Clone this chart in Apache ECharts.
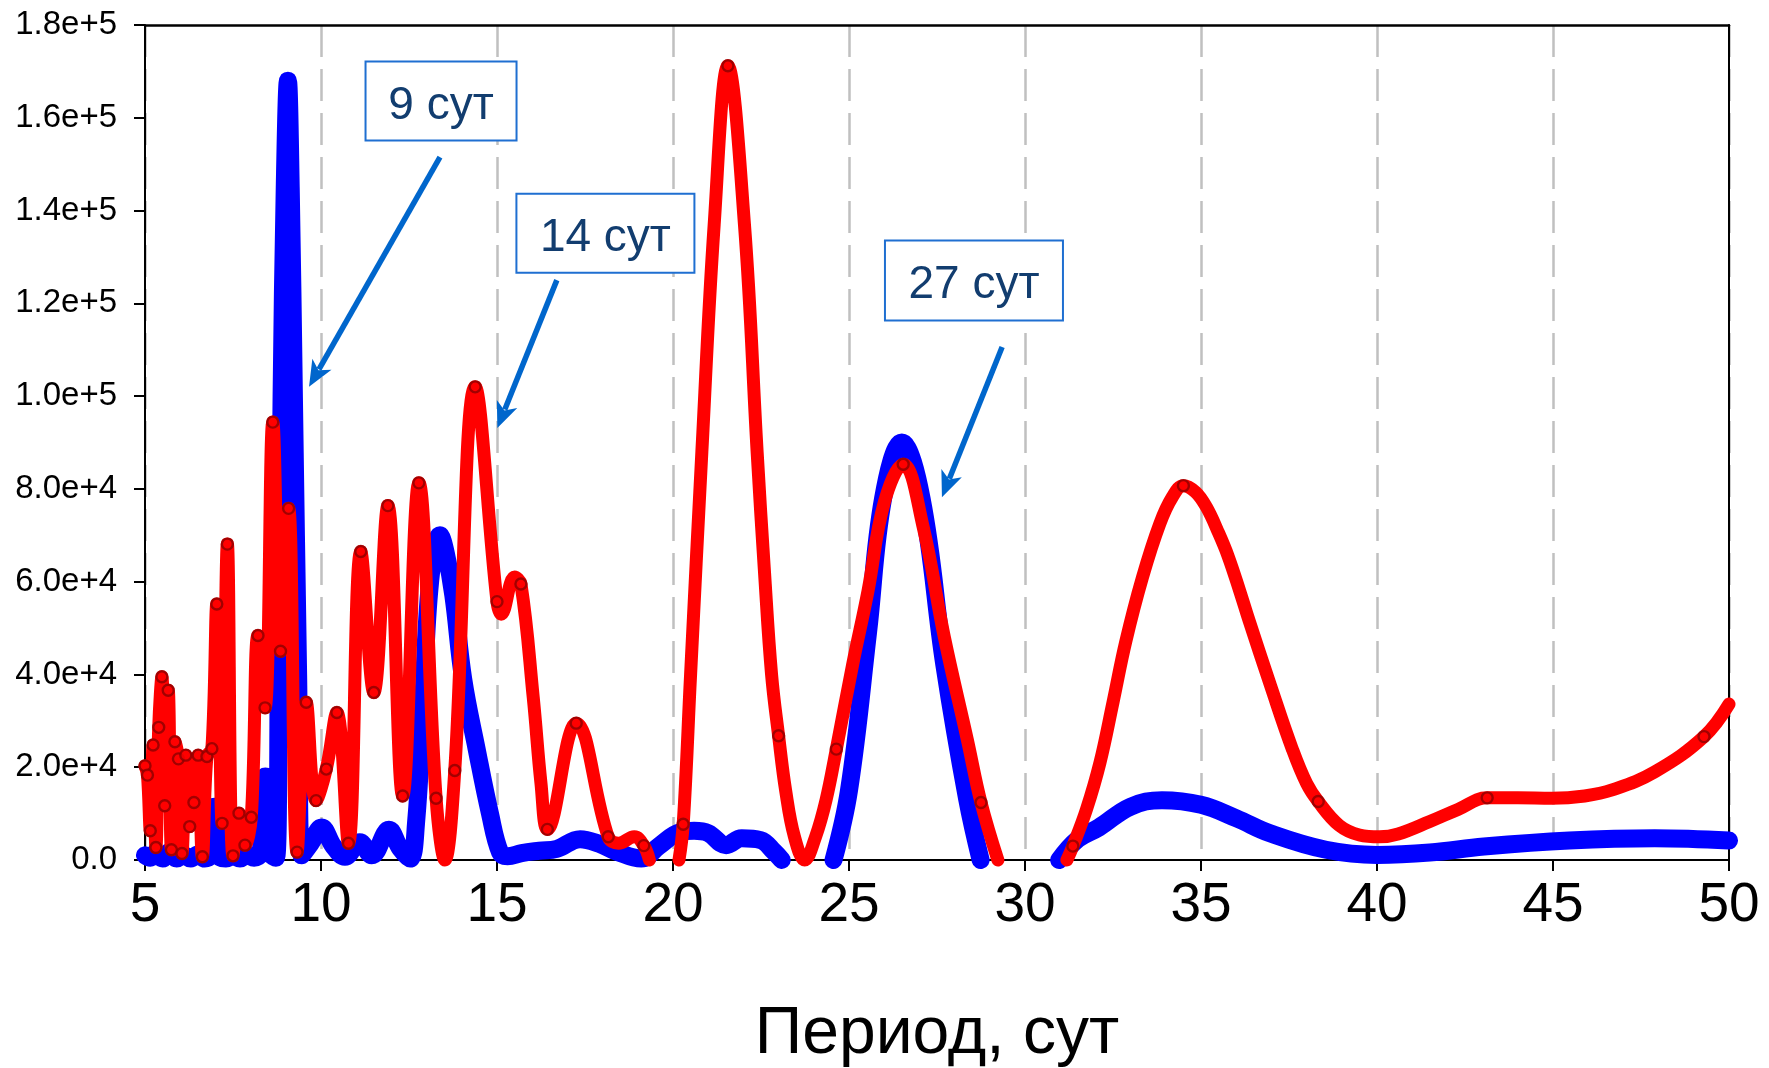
<!DOCTYPE html>
<html><head><meta charset="utf-8">
<script src="https://cdn.jsdelivr.net/npm/echarts@6/dist/echarts.min.js"></script>
<style>html,body{margin:0;padding:0;background:#fff}#c{width:1769px;height:1068px}</style>
</head><body><div id="c"></div>
<script>
// ---------- data ----------
const xTickLabels = ['5','10','15','20','25','30','35','40','45','50'];
const yTickLabels = ['0.0','2.0e+4','4.0e+4','6.0e+4','8.0e+4','1.0e+5','1.2e+5','1.4e+5','1.6e+5','1.8e+5'];
const xAxisTitle = 'Период, сут';

// blue spectrum (null = gap)
const bluePoints = [
 [5.00,1000],[5.15,500],[5.30,1500],[5.50,300],[5.70,1800],[5.90,300],[6.10,1000],[6.30,300],[6.50,1200],[6.70,300],
 [6.85,1000],[6.97,11500],[7.10,1000],[7.30,300],[7.50,800],[7.70,300],[7.90,1000],[8.10,500],[8.28,1500],[8.42,18000],
 [8.56,1500],[8.72,500],[8.80,40000],[8.88,100000],[8.97,145000],[9.06,168000],[9.14,145000],[9.23,100000],[9.35,40000],[9.45,1000],
 [9.70,3500],[10.02,7000],[10.35,3000],[10.68,700],[11.10,3800],[11.44,1000],[11.93,6500],[12.25,2500],[12.53,300],[12.70,8000],
 [12.89,32000],[13.10,60000],[13.38,70000],[13.55,66000],[13.76,57000],[14.04,39000],[14.42,24000],[14.80,10000],[15.09,1600],[15.30,800],
 [15.70,1500],[16.20,2000],[16.70,2400],[17.36,4500],[17.90,3500],[18.40,1800],[19.10,300],[19.60,3000],[20.20,6000],[20.60,6300],
 [21.00,5800],[21.51,3200],[21.95,4700],[22.49,4300],[22.87,1800],[23.09,0],[23.80,null],
 [24.56,0],[25.00,15000],[25.54,49000],[25.97,78000],[26.50,90000],[27.06,78000],[27.71,42000],[28.36,13000],[28.74,0],[29.80,null],
 [30.97,0],[31.50,4500],[32.10,7000],[33.00,11500],[33.89,12900],[35.00,11900],[36.00,9000],[36.98,5700],[38.55,2200],[40.00,1100],
 [41.50,1600],[43.04,2900],[45.46,4200],[47.89,4700],[50.00,4200]
];

// red spectrum curve (null = gap)
const redPoints = [
 [5.00,20300],[5.07,18300],[5.15,6300],[5.23,24800],[5.31,2700],[5.39,28600],[5.48,39500],[5.56,11700],[5.66,36600],[5.75,2200],
 [5.85,25500],[5.95,21800],[6.05,1400],[6.16,22600],[6.27,7200],[6.39,12400],[6.51,22600],[6.63,700],[6.76,22300],[6.90,24000],
 [7.04,55200],[7.19,7900],[7.34,68100],[7.50,900],[7.67,10100],[7.84,3200],[8.02,9200],[8.21,48400],[8.41,32800],[8.63,94400],
 [8.85,45000],[9.08,75800],[9.32,1700],[9.58,34000],[9.86,12800],[10.15,19600],[10.45,31800],[10.78,3600],[11.13,66500],[11.50,36100],
 [11.90,76400],[12.32,13800],[12.78,81300],[13.27,13300],[13.52,0],[13.80,19300],[14.38,102000],[15.00,55700],[15.12,53000],[15.50,61000],
 [15.68,59500],[16.03,35000],[16.25,16500],[16.43,6600],[17.25,29500],[18.16,5000],[18.45,3600],[18.90,5000],[19.17,3100],[19.33,0],
 [19.75,null],
 [20.17,0],[20.29,7700],[20.50,40000],[20.82,88000],[21.17,137000],[21.56,171200],[22.03,137000],[22.39,88000],[22.60,62000],[22.80,40000],
 [23.00,26800],[23.20,15000],[23.45,5000],[23.74,0],[24.05,5000],[24.35,13000],[24.64,23900],[25.10,42000],[25.54,58000],[26.00,77000],
 [26.54,85300],[27.10,72000],[27.71,48000],[28.36,26000],[28.75,12400],[29.23,0],[30.20,null],
 [31.19,0],[31.36,3000],[31.75,11000],[32.13,21000],[32.50,34000],[32.86,47000],[33.34,61000],[33.83,72500],[34.19,78300],[34.50,80700],
 [34.85,79300],[35.16,76000],[35.50,70500],[35.77,65500],[36.10,58000],[36.37,51500],[36.98,37500],[37.59,24000],[38.00,16500],[38.33,12600],
 [38.92,7500],[39.50,5400],[40.07,5000],[40.60,5600],[41.50,8300],[42.30,10900],[43.13,13400],[44.00,13400],[44.97,13300],[45.90,13800],
 [46.68,15100],[47.89,19000],[49.29,26600],[50.00,33600]
];

// red sampled points (markers)
const redMarkers = [
 [5.00,20300],[5.07,18300],[5.15,6300],[5.23,24800],[5.31,2700],[5.39,28600],[5.48,39500],[5.56,11700],[5.66,36600],[5.75,2200],
 [5.85,25500],[5.95,21800],[6.05,1400],[6.16,22600],[6.27,7200],[6.39,12400],[6.51,22600],[6.63,700],[6.76,22300],[6.90,24000],
 [7.04,55200],[7.19,7900],[7.34,68100],[7.50,900],[7.67,10100],[7.84,3200],[8.02,9200],[8.21,48400],[8.41,32800],[8.63,94400],
 [8.85,45000],[9.08,75800],[9.32,1700],[9.58,34000],[9.86,12800],[10.15,19600],[10.45,31800],[10.78,3600],[11.13,66500],[11.50,36100],
 [11.90,76400],[12.32,13800],[12.78,81300],[13.27,13300],[13.80,19300],[14.38,102000],[15.00,55700],[15.68,59500],[16.43,6600],[17.25,29500],
 [18.16,5000],[19.17,3100],[20.29,7700],[21.56,171200],[23.00,26800],[24.64,23900],[26.54,85300],[28.75,12400],[31.36,3000],[34.50,80700],
 [38.33,12600],[43.13,13400],[49.29,26600]
];

// annotations (data coordinates)
const annoText  = ['9 сут','14 сут','27 сут'];
const annoBox   = [[13.41,163600],[18.08,135100],[28.55,124900]];
const arrowFrom = [[13.38,151500],[16.70,125000],[29.35,110600]];
const arrowTo   = [[9.66,102000],[15.01,93100],[27.64,78200]];

// ---------- chart ----------
const FONT = '"Liberation Sans", Arial, sans-serif';
const toData = a => a.map(p => [p[0], p[1] === null ? '-' : p[1]]);
const chart = echarts.init(document.getElementById('c'), null, {renderer:'canvas'});
chart.setOption({
  animation:false,
  backgroundColor:'#fff',
  grid:{left:145, right:40, top:25, bottom:208, show:false, containLabel:false, outerBoundsMode:'none'},
  xAxis:[{
    type:'value', min:5, max:50, interval:5,
    name:xAxisTitle, nameLocation:'middle', nameGap:142,
    nameTextStyle:{fontFamily:FONT, fontSize:66, color:'#000'},
    axisLine:{show:true, onZero:false, lineStyle:{color:'#000', width:2}},
    axisTick:{show:true, inside:false, length:11, lineStyle:{color:'#000', width:2}},
    axisLabel:{margin:18, fontFamily:FONT, fontSize:55, color:'#000',
      formatter:(v)=>{const i=Math.round((v-5)/5); return xTickLabels[i]!==undefined?xTickLabels[i]:'';}},
    splitLine:{show:true, lineStyle:{color:'#c0c0c0', width:2.5, type:[32,12]}}
  },{
    type:'value', min:5, max:50, interval:5, position:'top',
    axisLine:{show:true, onZero:false, lineStyle:{color:'#000', width:2.5}},
    axisTick:{show:false}, axisLabel:{show:false}, splitLine:{show:false}
  }],
  yAxis:[{
    type:'value', min:0, max:180000, interval:20000,
    axisLine:{show:true, onZero:false, lineStyle:{color:'#000', width:2}},
    axisTick:{show:true, inside:false, length:11, lineStyle:{color:'#000', width:2}},
    axisLabel:{margin:28, fontFamily:FONT, fontSize:33, color:'#000',
      formatter:(v)=>{const i=Math.round(v/20000); return yTickLabels[i]!==undefined?yTickLabels[i]:'';}},
    splitLine:{show:false}
  },{
    type:'value', min:0, max:180000, interval:20000, position:'right',
    axisLine:{show:true, onZero:false, lineStyle:{color:'#000', width:2}},
    axisTick:{show:false}, axisLabel:{show:false}, splitLine:{show:false}
  }],
  series:[
    {type:'line', data:toData(bluePoints), smooth:0.4, showSymbol:false, symbol:'none', clip:false, connectNulls:false,
     lineStyle:{color:'#0000ff', width:18, cap:'round', join:'round'}, z:2},
    {type:'line', data:toData(redPoints), smooth:0.4, showSymbol:false, symbol:'none', clip:false, connectNulls:false,
     lineStyle:{color:'#ff0000', width:13, cap:'round', join:'round'}, z:3},
    {type:'scatter', data:redMarkers, symbol:'circle', symbolSize:11, clip:false,
     itemStyle:{color:'#ff0000', borderColor:'#8b0000', borderWidth:2.4}, z:4}
  ]
});

// annotation boxes and arrows, placed through the chart's coordinate system
function buildGraphic(){
  const g = [];
  const boxW = [151,178,178], boxH = [79,79,80];
  annoText.forEach((t,i)=>{
    const c = chart.convertToPixel({gridIndex:0}, annoBox[i]);
    g.push({type:'rect', z:100, shape:{x:c[0]-boxW[i]/2, y:c[1]-boxH[i]/2, width:boxW[i], height:boxH[i]},
      style:{fill:'#fff', stroke:'#1f6fd1', lineWidth:2}});
    g.push({type:'text', z:101, x:c[0], y:c[1]+5,
      style:{text:t, fill:'#123d6f', font:'46px '+FONT, textAlign:'center', textVerticalAlign:'middle'}});
    const a = chart.convertToPixel({gridIndex:0}, arrowFrom[i]);
    const b = chart.convertToPixel({gridIndex:0}, arrowTo[i]);
    const dx=b[0]-a[0], dy=b[1]-a[1], L=Math.hypot(dx,dy), ux=dx/L, uy=dy/L, nx=-uy, ny=ux;
    const hl=24, hw=11;
    const bx=b[0]-ux*hl, by=b[1]-uy*hl;
    g.push({type:'line', z:100, shape:{x1:a[0], y1:a[1], x2:bx+ux*4, y2:by+uy*4},
      style:{stroke:'#0066cc', lineWidth:5.5}});
    g.push({type:'polygon', z:100, shape:{points:[[b[0],b[1]],[bx+nx*hw-ux*2,by+ny*hw-uy*2],[bx+ux*5,by+uy*5],[bx-nx*hw-ux*2,by-ny*hw-uy*2]]},
      style:{fill:'#0066cc'}});
  });
  return g;
}
chart.setOption({graphic:buildGraphic()});
</script></body></html>
